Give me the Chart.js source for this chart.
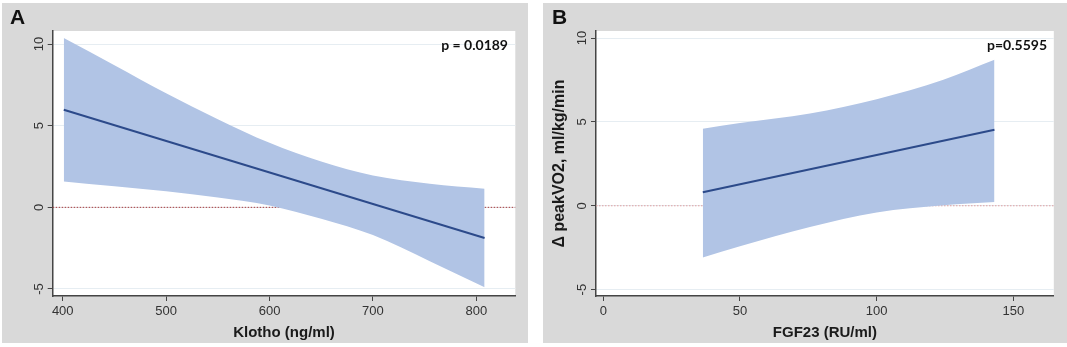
<!DOCTYPE html>
<html>
<head>
<meta charset="utf-8">
<script src="https://cdn.jsdelivr.net/npm/chart.js@4.4.0/dist/chart.umd.min.js"></script>
<style>
  body { margin: 0; background: #ffffff; width: 1067px; height: 347px; position: relative; overflow: hidden; }
  .panel { position: absolute; top: 3px; height: 340px; background: #d9d9d9; }
  .panel canvas { position: absolute; left: 0; top: 0; }
  .letter { position: absolute; top: 3px; font: bold 21px "Liberation Sans", Arial, sans-serif; line-height: 21px; color: #111; }
  .pval { position: absolute; top: 34px; font: bold 14px Lato, "Open Sans", sans-serif; line-height: 16px; color: #111; }
</style>
</head>
<body>
<div class="panel" id="panelA" style="left:2px; width:526px;">
  <canvas id="chartA" width="526" height="340"></canvas>
  <div class="letter" style="left:8px;">A</div>
  <div class="pval" style="right:20px;">p = 0.0189</div>
</div>
<div class="panel" id="panelB" style="left:543px; width:524px;">
  <canvas id="chartB" width="524" height="340"></canvas>
  <div class="letter" style="left:9px;">B</div>
  <div class="pval" style="right:20px;">p=0.5595</div>
</div>
<script>
// Panel A: Klotho
const klothoX = [401, 450, 500, 550, 600, 650, 700, 755, 808];
const klothoUpper = [10.37, 8.7, 6.98, 5.4, 3.95, 2.8, 1.95, 1.45, 1.14];
const klothoLower = [1.59, 1.29, 0.98, 0.6, 0.12, -0.7, -1.7, -3.3, -4.9];
const klothoFitX = [401, 808];
const klothoFit = [5.98, -1.88];
const klothoTicks = [400, 500, 600, 700, 800];

// Panel B: FGF23
const fgfX = [36.4, 50, 75.6, 100, 124.4, 143.1];
const fgfUpper = [4.59, 4.93, 5.5, 6.35, 7.51, 8.70];
const fgfLower = [-3.08, -2.42, -1.27, -0.4, 0.03, 0.22];
const fgfFitX = [36.4, 143.1];
const fgfFit = [0.80, 4.53];
const fgfTicks = [0, 50, 100, 150];

const yTicks = [-5, 0, 5, 10];

const FONT = '"Liberation Sans", Arial, sans-serif';
const BAND = '#b1c4e5';
const LINE = '#2c4a8a';
const AXIS = '#454545';

function pts(xs, ys) {
    return xs.map((x, i) => ({ x: x, y: ys[i] }));
}

// white plot region + dotted reference line at y = 0, both under the band
function plotBackground(zeroColor) {
    return {
        id: 'plotBackground',
        beforeDraw(chart) {
            const { ctx, chartArea } = chart;
            ctx.save();
            ctx.fillStyle = '#ffffff';
            ctx.fillRect(chartArea.left, chartArea.top, chartArea.right - chartArea.left, chartArea.bottom - chartArea.top);
            ctx.restore();
        },
        beforeDatasetsDraw(chart) {
            const { ctx, chartArea, scales } = chart;
            const y = scales.y.getPixelForValue(0);
            ctx.save();
            ctx.strokeStyle = zeroColor;
            ctx.lineWidth = 1;
            ctx.setLineDash([1.5, 1.5]);
            ctx.beginPath();
            ctx.moveTo(chartArea.left, y);
            ctx.lineTo(chartArea.right, y);
            ctx.stroke();
            ctx.restore();
        }
    };
}

function makeChart(id, cfg) {
    const ctx = document.getElementById(id).getContext('2d');
    return new Chart(ctx, {
        type: 'line',
        data: {
            datasets: [
                {
                    data: pts(cfg.bandX, cfg.lower),
                    borderWidth: 0,
                    pointRadius: 0,
                    fill: false,
                    order: 2,
                    cubicInterpolationMode: 'monotone'
                },
                {
                    data: pts(cfg.bandX, cfg.upper),
                    borderWidth: 0,
                    pointRadius: 0,
                    backgroundColor: BAND,
                    fill: '-1',
                    order: 1,
                    cubicInterpolationMode: 'monotone'
                },
                {
                    data: pts(cfg.fitX, cfg.fit),
                    borderColor: LINE,
                    borderWidth: 2,
                    pointRadius: 0,
                    fill: false,
                    order: 0
                }
            ]
        },
        options: {
            responsive: false,
            animation: false,
            events: [],
            layout: { padding: { top: 28, right: cfg.rightPad, left: 0, bottom: 0 } },
            plugins: { legend: { display: false }, tooltip: { enabled: false } },
            scales: {
                x: {
                    type: 'linear',
                    min: cfg.xMin,
                    max: cfg.xMax,
                    afterBuildTicks: (s) => { s.ticks = cfg.xTicks.map(v => ({ value: v })); },
                    afterFit: (s) => { s.height = 47; },
                    grid: { display: true, drawOnChartArea: false, drawTicks: true, tickLength: 5, tickColor: AXIS },
                    border: { display: true, color: AXIS, width: 1.5 },
                    ticks: { color: '#333', font: { family: FONT, size: 13 }, padding: 3, maxRotation: 0 },
                    title: {
                        display: true,
                        text: cfg.xTitle,
                        color: '#1a1a1a',
                        font: { family: FONT, size: 15, weight: 'bold' },
                        padding: { top: 0, bottom: 1 }
                    }
                },
                y: {
                    min: cfg.yMin,
                    max: cfg.yMax,
                    afterBuildTicks: (s) => { s.ticks = yTicks.map(v => ({ value: v })); },
                    afterFit: (s) => { s.width = cfg.yWidth; },
                    grid: { color: '#e6edf2', lineWidth: 1, drawTicks: true, tickLength: 5, tickColor: AXIS },
                    border: { display: true, color: AXIS, width: 1.5 },
                    ticks: {
                        color: '#333',
                        font: { family: FONT, size: 13 },
                        minRotation: 90,
                        maxRotation: 90,
                        crossAlign: 'center',
                        padding: 1
                    },
                    title: {
                        display: !!cfg.yTitle,
                        text: cfg.yTitle || '',
                        color: '#1a1a1a',
                        font: { family: FONT, size: 16, weight: 'bold' },
                        padding: { top: 7, bottom: 0 }
                    }
                }
            }
        },
        plugins: [plotBackground(cfg.zeroColor)]
    });
}

makeChart('chartA', {
    bandX: klothoX, upper: klothoUpper, lower: klothoLower,
    fitX: klothoFitX, fit: klothoFit,
    xTicks: klothoTicks, xMin: 390.3, xMax: 837.7,
    yMin: -5.43, yMax: 10.8,
    yWidth: 50.7, rightPad: 12.7,
    xTitle: 'Klotho (ng/ml)',
    zeroColor: '#a83a3a'
});

makeChart('chartB', {
    bandX: fgfX, upper: fgfUpper, lower: fgfLower,
    fitX: fgfFitX, fit: fgfFit,
    xTicks: fgfTicks, xMin: -2.67, xMax: 164.8,
    yMin: -5.38, yMax: 10.42,
    yWidth: 53, rightPad: 13.2,
    xTitle: 'FGF23 (RU/ml)',
    yTitle: 'Δ peakVO2, ml/kg/min',
    zeroColor: '#e0a0a0'
});
</script>
</body>
</html>
